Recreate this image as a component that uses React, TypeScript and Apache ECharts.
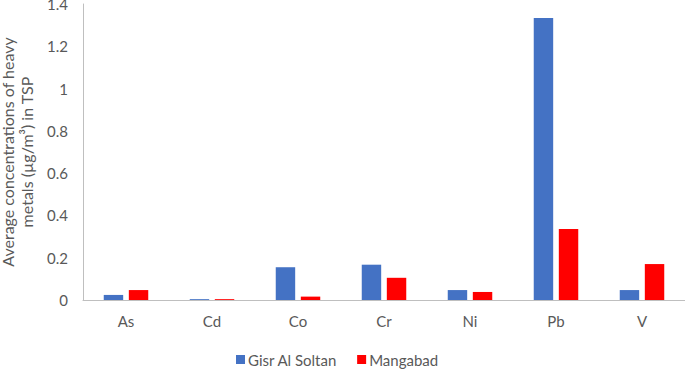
import React, { useEffect, useRef } from "react";
import * as echarts from "echarts";

const categories = ["As", "Cd", "Co", "Cr", "Ni", "Pb", "V"];
const gisrAlSoltan = [0.024, 0.004, 0.155, 0.167, 0.047, 1.334, 0.047];
const mangabad = [0.047, 0.004, 0.016, 0.105, 0.038, 0.336, 0.17];
const yTicks = { min: 0, max: 1.4, interval: 0.2 };

export default function App() {
  const ref = useRef<HTMLDivElement>(null);
  useEffect(() => {
    if (!ref.current) return;
    const chart = echarts.init(ref.current, undefined, { renderer: "svg" });
    const font = "Lato";
    chart.setOption({
      animation: false,
      textStyle: { fontFamily: font },
      grid: { left: 83, right: 0, top: 4, bottom: 69, containLabel: false, outerBoundsMode: "none" },
      legend: {
        top: 347,
        left: 231,
        itemWidth: 9,
        itemHeight: 9,
        itemGap: 20,
        icon: "rect",
        textStyle: { color: "#595959", fontSize: 15, fontFamily: font, padding: [0, 0, 0, -2] },
        data: ["Gisr Al Soltan", "Mangabad"],
      },
      xAxis: {
        type: "category",
        data: categories,
        axisLine: { show: true, lineStyle: { color: "#bfbfbf", width: 1 } },
        axisTick: { show: false },
        axisLabel: { color: "#595959", fontSize: 15, margin: 13, fontFamily: font },
      },
      yAxis: {
        type: "value",
        min: yTicks.min,
        max: yTicks.max,
        interval: yTicks.interval,
        axisLine: { show: true, lineStyle: { color: "#bfbfbf", width: 1 } },
        axisTick: { show: false },
        splitLine: { show: false },
        axisLabel: {
          color: "#595959",
          fontSize: 15,
          margin: 15,
          fontFamily: font,
          formatter: (v: number) => String(Math.round(v * 10) / 10),
        },
        name: "Average concentrations of heavy\nmetals (µg/m³) in TSP",
        nameLocation: "middle",
        nameRotate: 90,
        nameGap: 41,
        nameTextStyle: { color: "#595959", fontSize: 16, lineHeight: 19, fontFamily: font, align: "center" },
      },
      series: [
        {
          name: "Gisr Al Soltan",
          type: "bar",
          data: gisrAlSoltan,
          barWidth: "22.6%",
          barGap: "29%",
          itemStyle: { color: "#4472c4" },
        },
        {
          name: "Mangabad",
          type: "bar",
          data: mangabad,
          barWidth: "22.6%",
          barGap: "29%",
          itemStyle: { color: "#ff0000" },
        },
      ],
    });
    return () => chart.dispose();
  }, []);
  return (
    <div
      ref={ref}
      style={{ position: "fixed", left: 0, top: 0, width: 685, height: 369, overflow: "hidden", background: "#fff" }}
    />
  );
}
